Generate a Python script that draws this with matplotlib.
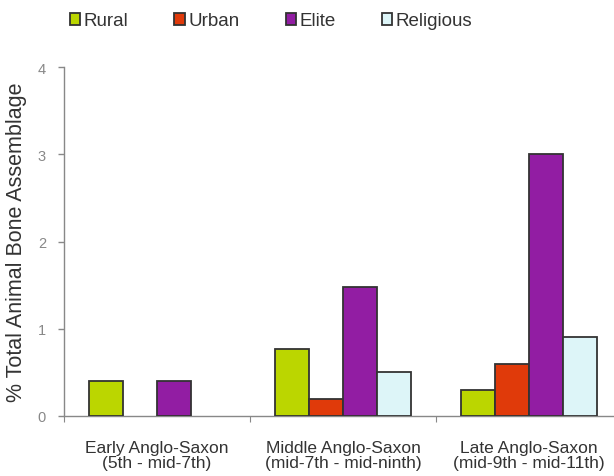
import numpy as np
import matplotlib.pyplot as plt
from matplotlib.patches import Patch

plt.rcParams['font.family'] = ['Liberation Sans', 'DejaVu Sans']

periodos = ['Early Anglo-Saxon\n(5th - mid-7th)',
            'Middle Anglo-Saxon\n(mid-7th - mid-ninth)',
            'Late Anglo-Saxon\n(mid-9th - mid-11th)']
series = ['Rural', 'Urban', 'Elite', 'Religious']
rural = [0.4, 0.77, 0.3]
urban = [0.0, 0.2, 0.6]
elite = [0.4, 1.48, 3.0]
religious = [0.0, 0.5, 0.9]
cores = ['#BBD600', '#E03A0A', '#921DA3', '#DDF5F8']

valores = [rural, urban, elite, religious]

fig = plt.figure(figsize=(6.14, 4.77), dpi=100)
ax = fig.add_axes([64/614, 60/477, 558/614, 349/477])

x = np.arange(len(periodos))
w = 34/186
for i, (vals, cor) in enumerate(zip(valores, cores)):
    v = np.array(vals)
    mask = v > 0
    ax.bar(x[mask] + (i - 1.5)*w, v[mask], width=w, color=cor,
           edgecolor='#333333', linewidth=1.3, zorder=3)

ax.set_xlim(-0.5, 2.5)
ax.set_ylim(0, 4)
ax.set_yticks([0, 1, 2, 3, 4])
ax.tick_params(axis='y', colors='#888888', labelsize=10.5, length=4, width=1, pad=9)
ax.set_xticks([-0.5, 0.5, 1.5, 2.5])
ax.set_xticklabels([])
ax.set_xticks(x, minor=True)
ax.set_xticklabels(periodos, minor=True, fontsize=12.5, color='#333333')
ax.tick_params(axis='x', which='major', length=4, color='#888888')
ax.tick_params(axis='x', which='minor', length=0, pad=17)
for lab in ax.get_xticklabels(minor=True):
    lab.set_linespacing(1.0)

for s in ['top', 'right']:
    ax.spines[s].set_visible(False)
for s in ['left', 'bottom']:
    ax.spines[s].set_color('#888888')
    ax.spines[s].set_linewidth(1)

ax.set_ylabel('% Total Animal Bone Assemblage', fontsize=15.5, color='#333333', labelpad=8)

handles = [Patch(facecolor=c, edgecolor='#333333', linewidth=1.3) for c in cores]
fig.legend(handles, series, loc='center', bbox_to_anchor=(271/614, 1 - 22/477), ncol=4,
           frameon=False, fontsize=13.5, handlelength=0.55, handleheight=0.55,
           handletextpad=0.2, columnspacing=2.45, labelcolor='#333333')

fig.savefig('out.png', dpi=100)
